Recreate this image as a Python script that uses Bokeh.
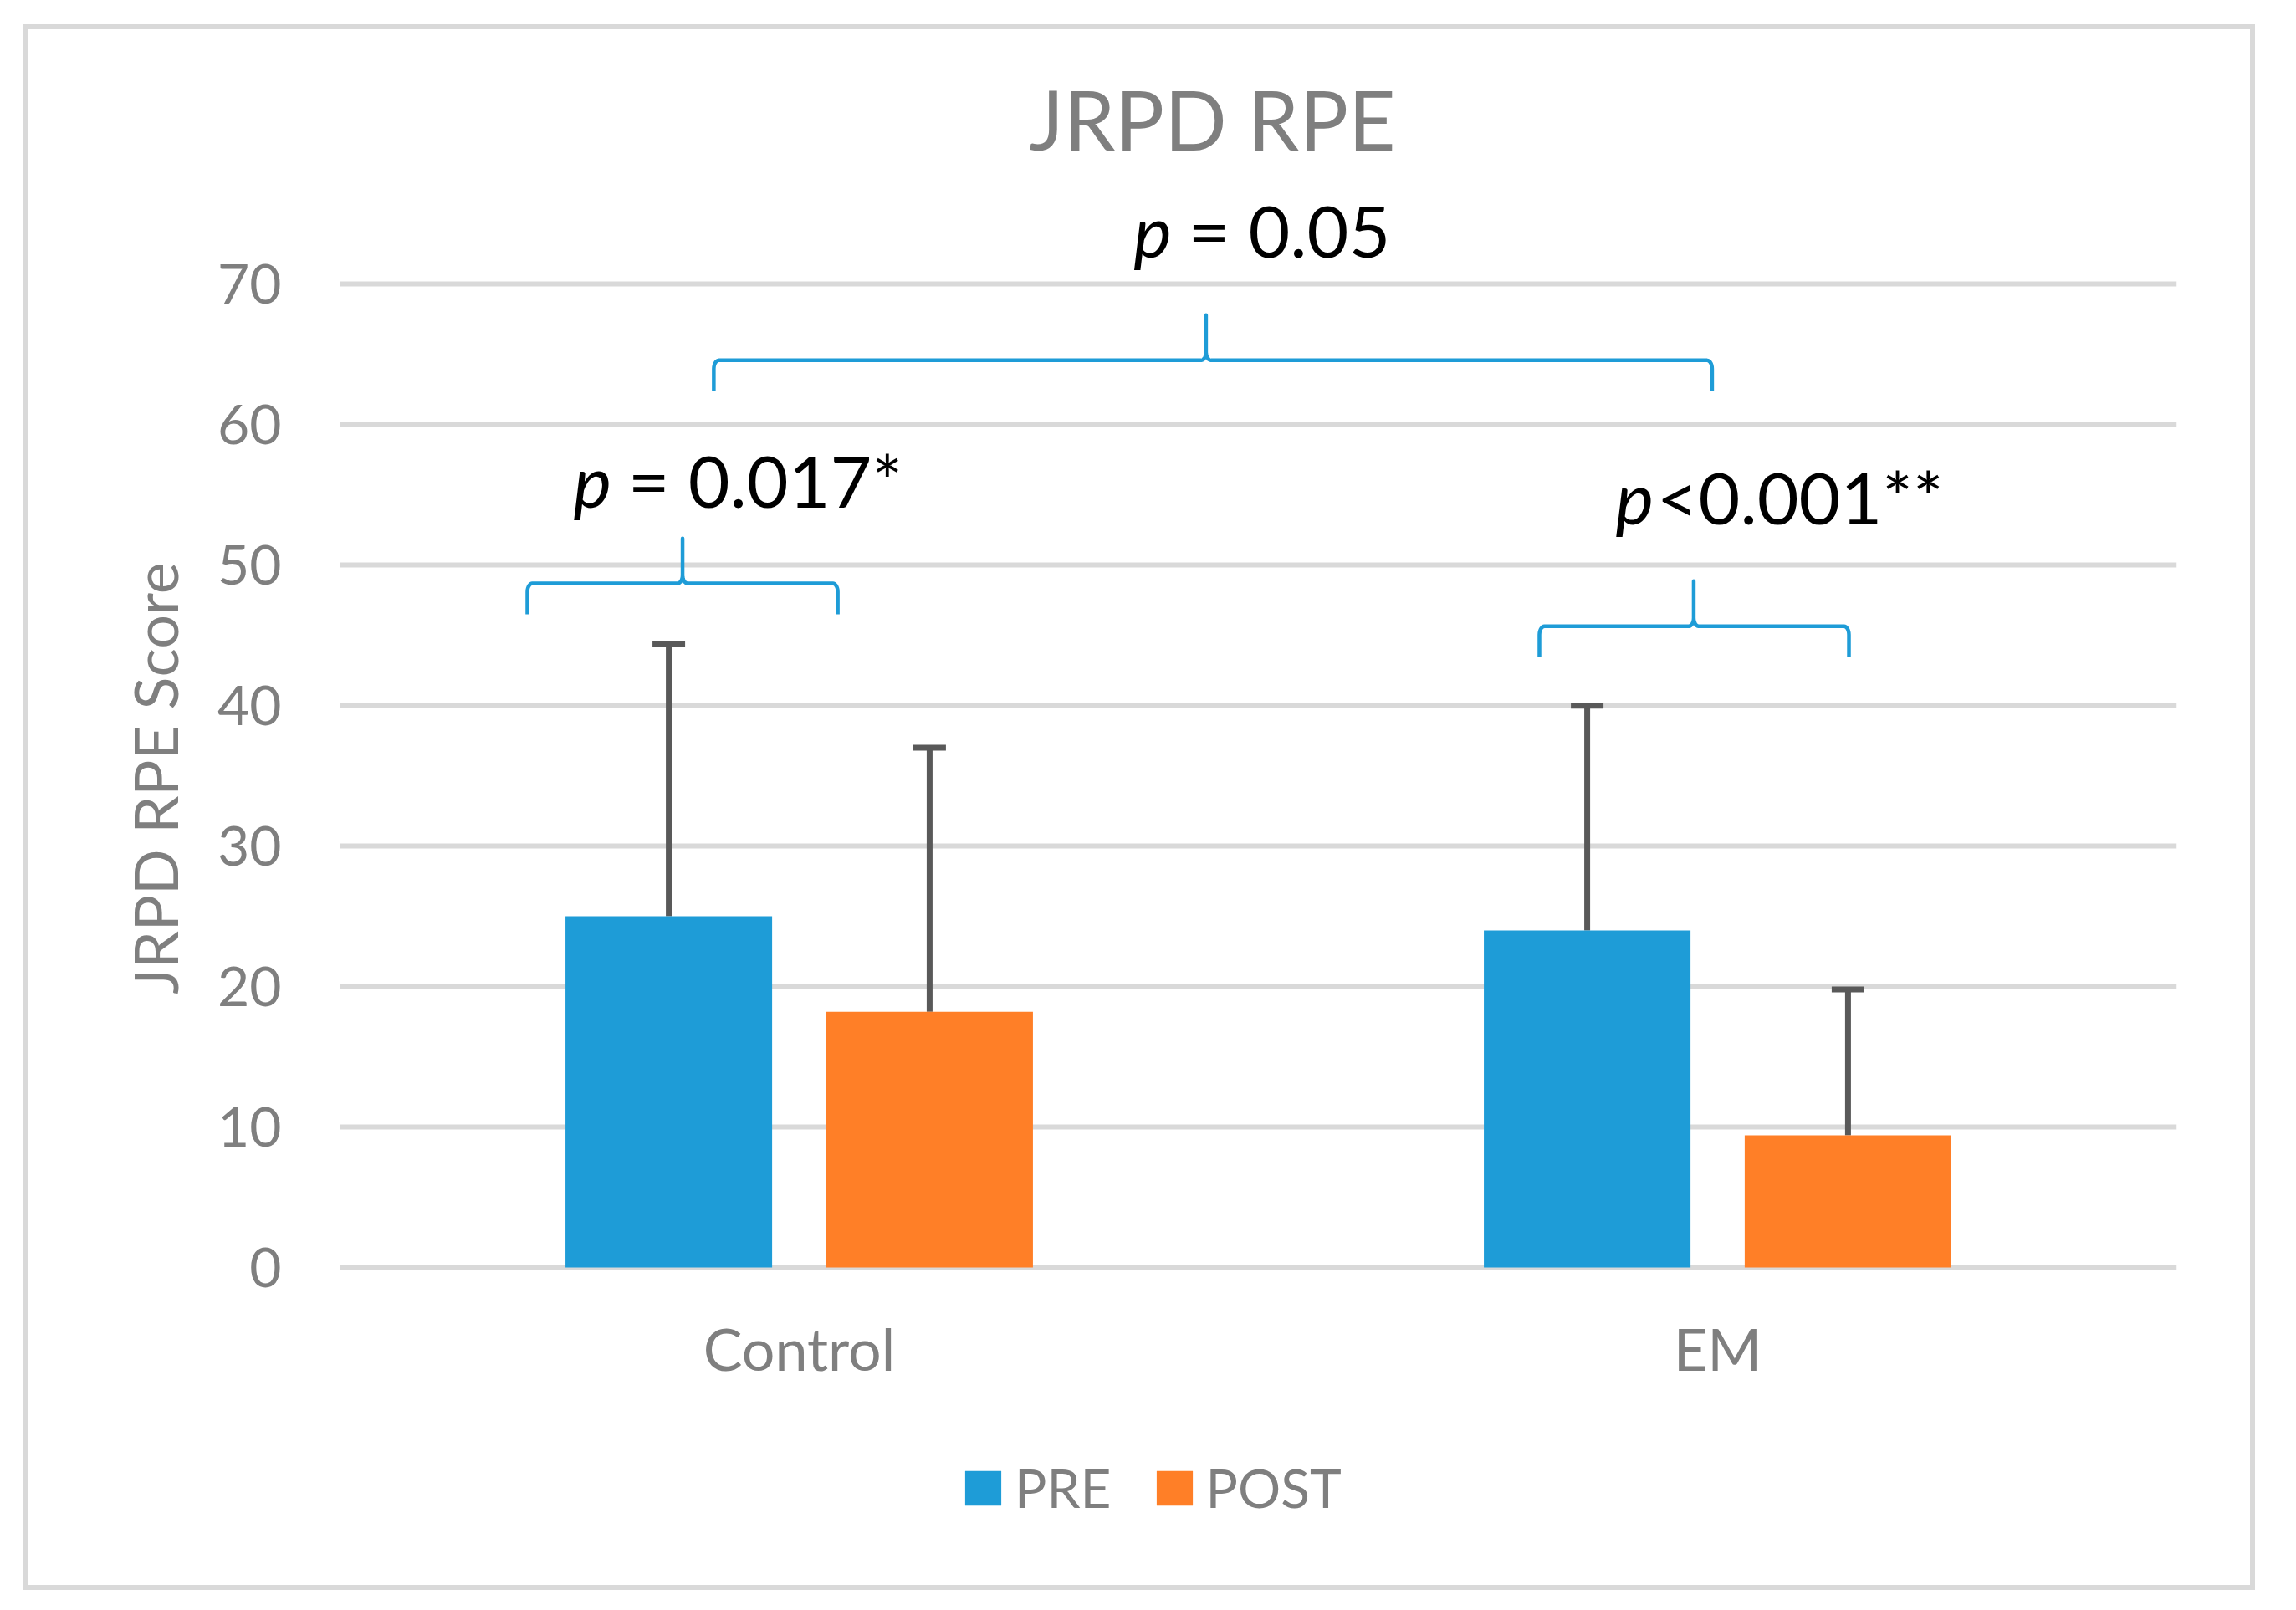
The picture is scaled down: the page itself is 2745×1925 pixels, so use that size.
import numpy as np
from bokeh.plotting import figure
from bokeh.models import (ColumnDataSource, Range1d, FactorRange, FixedTicker, Whisker,
                          TeeHead, Label, Legend, LegendItem)
from bokeh.transform import dodge
from bokeh.embed import file_html
from bokeh.resources import INLINE

# ---------------- data ----------------
categories = ["Control", "EM"]
series = ["PRE", "POST"]
pre_mean = [25.0, 24.0]
pre_sd = [19.4, 16.0]
post_mean = [18.2, 9.4]
post_sd = [18.8, 10.4]
y_ticks = [0, 10, 20, 30, 40, 50, 60, 70]

title_text = "JRPD RPE"
y_label = "JRPD RPE Score"

# significance annotations: italic "p" + rest of the text
sig_rest = ["= 0.017*", "<0.001**", "= 0.05"]
sig_space = [True, False, True]

# ---------------- styles ----------------
FONT = "Lato"
GRAY = "#7F7F7F"
GRID = "#D9D9D9"
C_PRE = "#1E9CD7"
C_POST = "#FF7F27"
C_ERR = "#595959"
C_BRACE = "#1E9CD7"

FRAME_W, FRAME_H = 2196, 1790
Y0, Y1 = -18.46, 88.12
PX_X = 2.0 / FRAME_W            # data units per pixel (x)
PX_Y = (Y1 - Y0) / FRAME_H      # data units per pixel (y)
OFF = 0.142                      # dodge offset of bars
BAR_W = 0.225

p = figure(x_range=FactorRange(factors=categories, range_padding=0),
           y_range=Range1d(Y0, Y1),
           frame_width=FRAME_W, frame_height=FRAME_H,
           min_border_left=373, min_border_right=88,
           min_border_top=0, min_border_bottom=70,
           output_backend="svg", toolbar_location=None, tools="")

p.outline_line_color = None
p.background_fill_color = "white"
p.border_fill_color = "white"
p.styles = {"border": "6px solid #D9D9D9", "margin-left": "27px", "margin-top": "29px"}

src = ColumnDataSource(dict(
    cat=categories,
    pre=pre_mean,
    post=post_mean,
    pre_hi=[m + s for m, s in zip(pre_mean, pre_sd)],
    post_hi=[m + s for m, s in zip(post_mean, post_sd)],
))

r_pre = p.vbar(x=dodge("cat", -OFF, range=p.x_range), top="pre", bottom=0, width=BAR_W,
               source=src, fill_color=C_PRE, line_color=None)
r_post = p.vbar(x=dodge("cat", OFF, range=p.x_range), top="post", bottom=0, width=BAR_W,
                source=src, fill_color=C_POST, line_color=None)

for col, hi, off in (("pre", "pre_hi", -OFF), ("post", "post_hi", OFF)):
    w = Whisker(base=dodge("cat", off, range=p.x_range), lower=col, upper=hi, source=src,
                dimension="height", line_color=C_ERR, line_width=7,
                upper_head=TeeHead(size=39, line_color=C_ERR, line_width=7),
                lower_head=None)
    p.add_layout(w)

# axes
p.yaxis.ticker = FixedTicker(ticks=y_ticks)
p.ygrid.ticker = FixedTicker(ticks=y_ticks)
p.ygrid.grid_line_color = GRID
p.ygrid.grid_line_width = 6
p.xgrid.visible = False
for ax in (p.xaxis[0], p.yaxis[0]):
    ax.axis_line_color = None
    ax.major_tick_line_color = None
    ax.minor_tick_line_color = None
    ax.major_tick_out = 0
    ax.major_tick_in = 0
    ax.major_label_text_font = FONT
    ax.major_label_text_color = GRAY
p.yaxis.major_label_text_font_size = "66px"
p.xaxis.major_label_text_font_size = "70px"
p.yaxis.major_label_standoff = 70
# the frame reaches down to the legend, so the category labels sit inside it
p.xaxis.major_label_standoff = -256
p.yaxis.axis_label = y_label
p.yaxis.axis_label_text_font = FONT
p.yaxis.axis_label_text_font_size = "72px"
p.yaxis.axis_label_text_font_style = "normal"
p.yaxis.axis_label_text_color = GRAY
p.yaxis.axis_label_standoff = 29

# legend
legend = Legend(items=[LegendItem(label=series[0], renderers=[r_pre]),
                       LegendItem(label=series[1], renderers=[r_post])],
                orientation="horizontal", location=(742, 8),
                glyph_width=54, glyph_height=52, label_standoff=11, spacing=48,
                padding=0, margin=0, border_line_color=None, background_fill_alpha=0,
                label_text_font=FONT, label_text_font_size="64px", label_text_color=GRAY)
p.add_layout(legend)

# title
p.add_layout(Label(x=0.950, y=81.8, text=title_text, text_align="center",
                   text_baseline="alphabetic", text_font=FONT, text_font_size="98px",
                   text_color=GRAY))

# braces: x start, peak, end ; y end, bar, tip
brace_x0 = [0.204, 1.306, 0.407]
brace_xm = [0.373, 1.474, 0.943]
brace_x1 = [0.542, 1.643, 1.494]
brace_yend = [46.5, 43.45, 62.38]
brace_ybar = [48.7, 45.65, 64.58]
brace_ytip = [51.9, 48.87, 67.8]

def brace_path(x0, xm, x1, ye, yb, yt):
    rx, ry = 6 * PX_X, 10 * PX_Y
    t = np.linspace(0, np.pi / 2, 8)
    xs, ys = [x0], [ye]
    xs += list(x0 + rx - rx * np.cos(t)); ys += list(yb - ry + ry * np.sin(t))
    xs += list(xm - rx + rx * np.sin(t)); ys += list(yb + ry - ry * np.cos(t))
    xs += [xm, xm]; ys += [yt, yb + ry]
    xs += list(xm + rx - rx * np.sin(t[::-1])); ys += list(yb + ry - ry * np.cos(t[::-1]))
    xs += list(x1 - rx + rx * np.cos(t[::-1])); ys += list(yb - ry + ry * np.sin(t[::-1]))
    xs += [x1]; ys += [ye]
    return xs, ys

bx, by = [], []
for args in zip(brace_x0, brace_xm, brace_x1, brace_yend, brace_ybar, brace_ytip):
    xs, ys = brace_path(*args)
    bx.append(xs); by.append(ys)
p.multi_line(xs=bx, ys=by, line_color=C_BRACE, line_width=4.5, line_join="round")

# significance texts
SIG_SIZE = 86
sig_x = [0.254, 1.389, 0.864]
sig_y = [56.1, 54.9, 73.9]
for x, y, rest, sp in zip(sig_x, sig_y, sig_rest, sig_space):
    p.add_layout(Label(x=x, y=y, text="p", text_font=FONT, text_font_style="italic",
                       text_font_size=f"{SIG_SIZE}px", text_color="black",
                       text_baseline="alphabetic"))
    p.add_layout(Label(x=x, y=y, x_offset=(0.57 + (0.19 if sp else 0)) * SIG_SIZE,
                       text=rest, text_font=FONT,
                       text_font_size=f"{SIG_SIZE}px", text_color="black",
                       text_baseline="alphabetic"))

open("out.html", "w").write(file_html(p, INLINE))
